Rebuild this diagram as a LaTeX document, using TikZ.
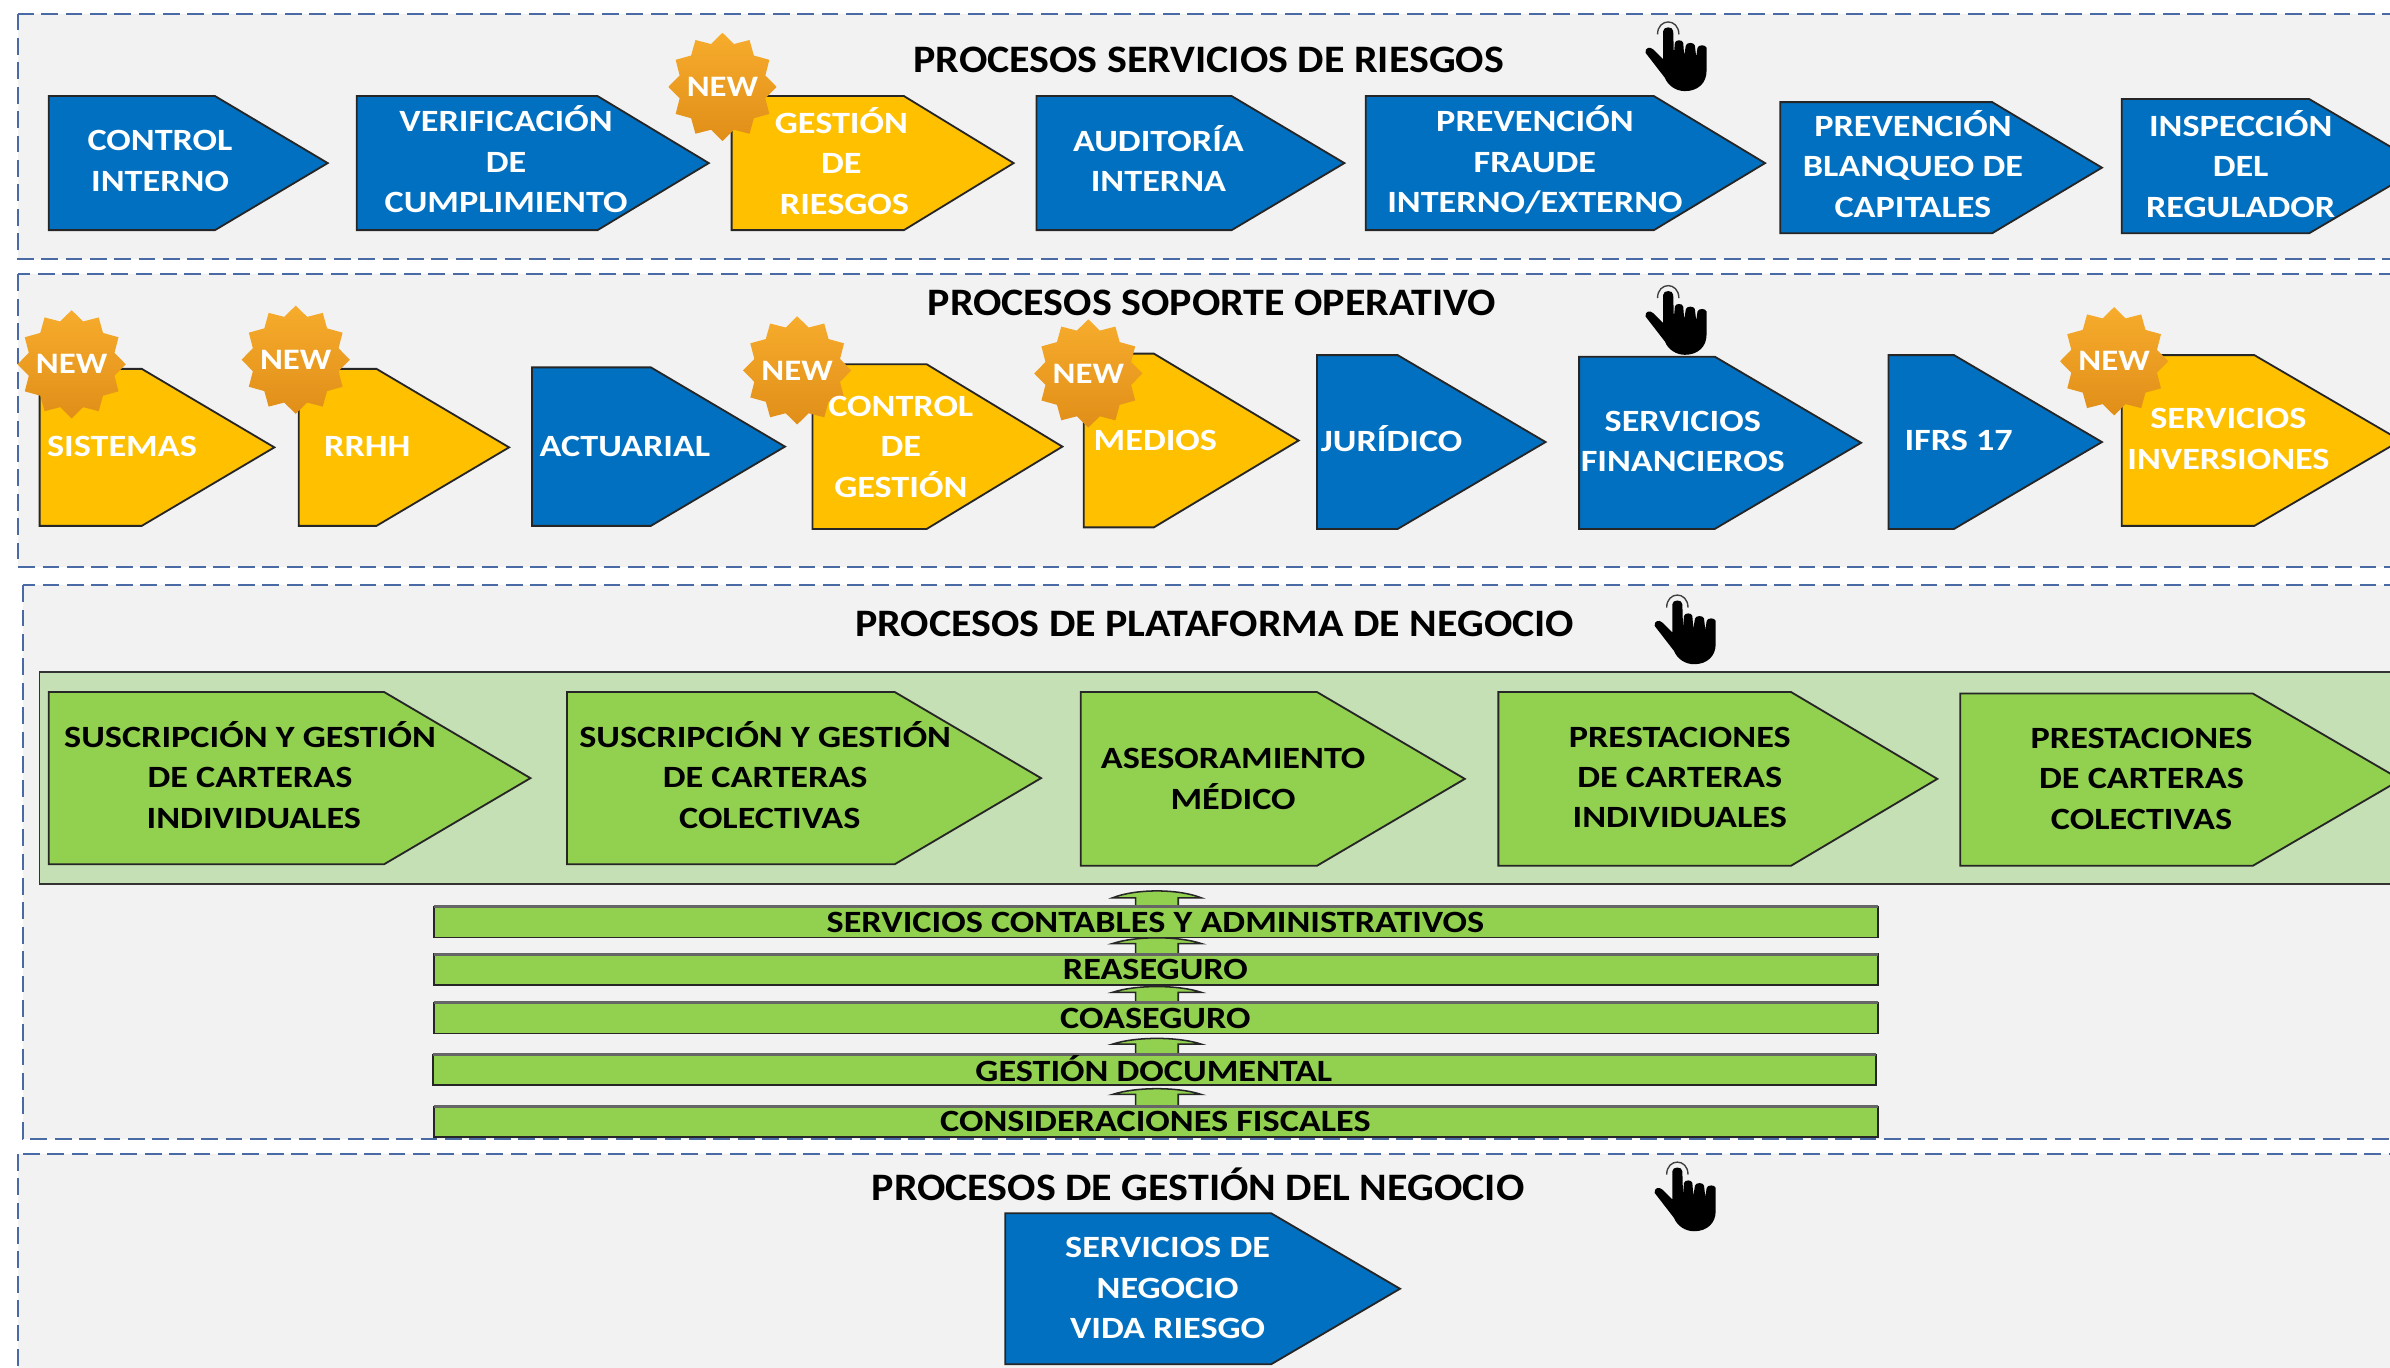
\documentclass[tikz,border=0pt]{standalone}
\usepackage{fontspec}
\setmainfont{Carlito}[FakeStretch=1.17]
\newfontfamily\titlefont{Carlito}[FakeStretch=1.08]
\usetikzlibrary{shapes.geometric}
\definecolor{panelfill}{HTML}{F2F2F2}
\definecolor{dashblue}{HTML}{4A6AA5}
\definecolor{boxblue}{HTML}{0170C0}
\definecolor{boxgold}{HTML}{FFC000}
\definecolor{boxgreen}{HTML}{92D050}
\definecolor{bandgreen}{HTML}{C5E0B4}
\definecolor{F6Atop}{HTML}{F7AC2C}
\definecolor{F6Abot}{HTML}{E08E18}
\tikzset{
  panel/.style={draw=dashblue,fill=panelfill,line width=1.2pt,dash pattern=on 11pt off 5pt},
  pentagon/.style={draw=black!85,line width=1.2pt,line join=miter},
  wtext/.style={text=white,font=\bfseries\fontsize{20.3}{26.5}\selectfont,align=center,inner sep=0pt},
  ktext/.style={text=black,font=\bfseries\fontsize{20.3}{26.5}\selectfont,align=center,inner sep=0pt},
  bartext/.style={text=black,font=\bfseries\fontsize{20.3}{22}\selectfont,inner sep=0pt},
  title/.style={text=black,font=\titlefont\bfseries\fontsize{25.5}{28}\selectfont,inner sep=0pt},
  burst/.style={star,star points=12,star point ratio=1.22,minimum size=71pt,inner sep=0pt,
    top color=F6Atop,bottom color=F6Abot,draw=none},
  newtext/.style={text=white,inner sep=0pt,font=\bfseries\fontsize{19.5}{22}\selectfont},
  barbox/.style={draw=black!85,fill=boxgreen,line width=1.2pt},
  bartop/.style={draw=black!60,line width=2pt},
  uparrow/.style={draw=black!85,fill=boxgreen,line width=1pt,line join=miter}
}
% colour, left, top, neck, tip, bottom
\newcommand{\abox}[6]{\draw[pentagon,fill=#1] (#2,#3) -- (#4,#3) -- (#5,{(#3+#6)/2}) -- (#4,#6) -- (#2,#6) -- cycle;}
% shaft top, wing y, body y
\newcommand{\uparr}[3]{\draw[uparrow] (745,#3) -- (745,#2) -- (730,#2) .. controls (745,#1) and (773,#1) .. (788,#2) -- (773,#2) -- (773,#3) -- cycle;}
% left, top, right, bottom
\newcommand{\barrect}[4]{\draw[barbox] (#1,#2) rectangle (#3,#4); \draw[bartop] (#1,#2) -- (#3,#2);}
\newcommand{\handicon}[2]{%
\begin{scope}[shift={(#1,#2)},scale=0.2187]
\fill[black] (-45,-25) -- (-45,-85) .. controls (-45,-100) and (-15,-100) .. (-15,-85)
 -- (-13,-15) -- (-10,-50) .. controls (-8,-60) and (13,-60) .. (15,-50) -- (18,-12)
 -- (23,-42) .. controls (25,-52) and (48,-52) .. (50,-42) -- (54,-8)
 -- (58,-35) .. controls (60,-45) and (83,-45) .. (85,-35) -- (85,35)
 .. controls (85,70) and (60,95) .. (20,95) .. controls (-5,95) and (-30,80) .. (-40,55)
 -- (-98,-20) .. controls (-100,-35) and (-85,-40) .. (-75,-30) -- (-45,0) -- cycle;
\draw[black!75,line width=0.9pt] (-62,-75) .. controls (-62,-125) and (2,-125) .. (2,-75);
\end{scope}}
\begin{document}
\begin{tikzpicture}[x=1pt,y=-1pt]
\useasboundingbox (0,0) rectangle (1568,897);
\clip (0,0) rectangle (1568,897);
% panels
\draw[panel] (12,9) rectangle (1600,170);
\draw[panel] (12,180) rectangle (1600,372);
\draw[panel] (15,384) rectangle (1600,747);
\draw[panel] (12,757) rectangle (1600,920);
% titles
\node[title] (t1) at (793,39) {PROCESOS SERVICIOS DE RIESGOS};
\node[title] (t2) at (795,199) {PROCESOS SOPORTE OPERATIVO};
\node[title] (t3) at (797,409) {PROCESOS DE PLATAFORMA DE NEGOCIO};
\node[title] (t4) at (786,777) {PROCESOS DE GESTIÓN DEL NEGOCIO};
% hands
\handicon{1101}{39}
\handicon{1101}{212}
\handicon{1107}{415}
\handicon{1107}{787}
% row 1
\abox{boxblue}{32}{63}{141}{215}{151}
\abox{boxblue}{234}{63}{392}{465}{151}
\abox{boxgold}{480}{63}{593}{665}{151}
\abox{boxblue}{680}{63}{808}{882}{151}
\abox{boxblue}{896}{63}{1085}{1158}{151}
\abox{boxblue}{1168}{67}{1307}{1379}{153}
\abox{boxblue}{1392}{65}{1515}{1590}{153}
% row 2
\abox{boxgold}{26}{242}{93}{180}{345}
\abox{boxgold}{196}{242}{247}{334}{345}
\abox{boxblue}{349}{241}{427}{515}{345}
\abox{boxgold}{533}{239}{608}{697}{347}
\abox{boxgold}{711}{232}{757}{852}{346}
\abox{boxblue}{864}{233}{917}{1014}{347}
\abox{boxblue}{1036}{234}{1125}{1221}{347}
\abox{boxblue}{1239}{233}{1282}{1379}{347}
\abox{boxgold}{1392}{233}{1479}{1575}{345}
% band
\draw[draw=black!80,fill=bandgreen,line width=1pt] (26,441) rectangle (1600,580);
\abox{boxgreen}{32}{454}{252}{348}{567}
\abox{boxgreen}{372}{454}{587}{683}{567}
\abox{boxgreen}{709}{454}{864}{961}{568}
\abox{boxgreen}{983}{454}{1175}{1271}{568}
\abox{boxgreen}{1286}{455}{1478}{1575}{568}
% up arrows and bars
\uparr{583}{589}{596}
\barrect{285}{595}{1232}{615}
\uparr{614}{619}{627}
\barrect{285}{626}{1232}{646}
\uparr{646}{651}{659}
\barrect{285}{658}{1232}{678}
\uparr{680}{685}{693}
\barrect{284}{692}{1231}{712}
\uparr{713}{718}{727}
\barrect{285}{726}{1232}{746}
\node[bartext] (b1) at (758,605) {SERVICIOS CONTABLES Y ADMINISTRATIVOS};
\node[bartext] (b2) at (758,636) {REASEGURO};
\node[bartext] (b3) at (758,668) {COASEGURO};
\node[bartext] (b4) at (757,701) {GESTIÓN DOCUMENTAL};
\node[bartext] (b5) at (758,736) {CONSIDERACIONES FISCALES};
% row 4
\abox{boxblue}{659.5}{796}{834}{918.5}{895}
% starbursts
\node[burst] (n1) at (474,57) {};
\node[newtext] (w1) at (474,57) {NEW};
\node[burst] (n2) at (47,239) {};
\node[newtext] (w2) at (47,239) {NEW};
\node[burst] (n3) at (194,236) {};
\node[newtext] (w3) at (194,236) {NEW};
\node[burst] (n4) at (523,243) {};
\node[newtext] (w4) at (523,243) {NEW};
\node[burst] (n5) at (714,245) {};
\node[newtext] (w5) at (714,245) {NEW};
\node[burst] (n6) at (1387,237) {};
\node[newtext] (w6) at (1387,237) {NEW};
% labels
\node[wtext] (l1) at (105,105.5) {CONTROL\\INTERNO};
\node[wtext] (l2) at (332,104.5) {VERIFICACIÓN\\DE\\CUMPLIMIENTO};
\node[wtext] (l3) at (552,105.5) {GESTIÓN\\DE\\\hspace{4pt}RIESGOS};
\node[wtext] (l4) at (760,104) {AUDITORÍA\\INTERNA};
\node[wtext] (l5) at (1007,105) {PREVENCIÓN\\FRAUDE\\INTERNO/EXTERNO};
\node[wtext] (l6) at (1255,107.5) {PREVENCIÓN\\BLANQUEO DE\\CAPITALES};
\node[wtext] (l7) at (1470,107.5) {INSPECCIÓN\\DEL\\REGULADOR};
\node[wtext] (l8) at (80,293) {SISTEMAS};
\node[wtext] (l9) at (241,293) {RRHH};
\node[wtext] (l10) at (410,293) {ACTUARIAL};
\node[wtext] (l11) at (591,293) {CONTROL\\DE\\GESTIÓN};
\node[wtext] (l12) at (758,289) {MEDIOS};
\node[wtext] (l13) at (913,288) {JURÍDICO};
\node[wtext] (l14) at (1104,289.5) {SERVICIOS\\FINANCIEROS};
\node[wtext] (l15) at (1285,289) {IFRS 17};
\node[wtext] (l16) at (1462,288) {SERVICIOS\\INVERSIONES};
\node[ktext] (g1) at (164,508.5) {SUSCRIPCIÓN Y GESTIÓN\\DE CARTERAS\\\hspace{5pt}INDIVIDUALES};
\node[ktext] (g2) at (502,508.5) {SUSCRIPCIÓN Y GESTIÓN\\DE CARTERAS\\\hspace{6pt}COLECTIVAS};
\node[ktext] (g3) at (809,511) {ASESORAMIENTO\\MÉDICO};
\node[ktext] (g4) at (1102,510) {PRESTACIONES\\DE CARTERAS\\INDIVIDUALES};
\node[ktext] (g5) at (1405,511) {PRESTACIONES\\DE CARTERAS\\COLECTIVAS};
\node[wtext] (l17) at (766,845) {SERVICIOS DE\\NEGOCIO\\VIDA RIESGO};
\end{tikzpicture}
\end{document}
